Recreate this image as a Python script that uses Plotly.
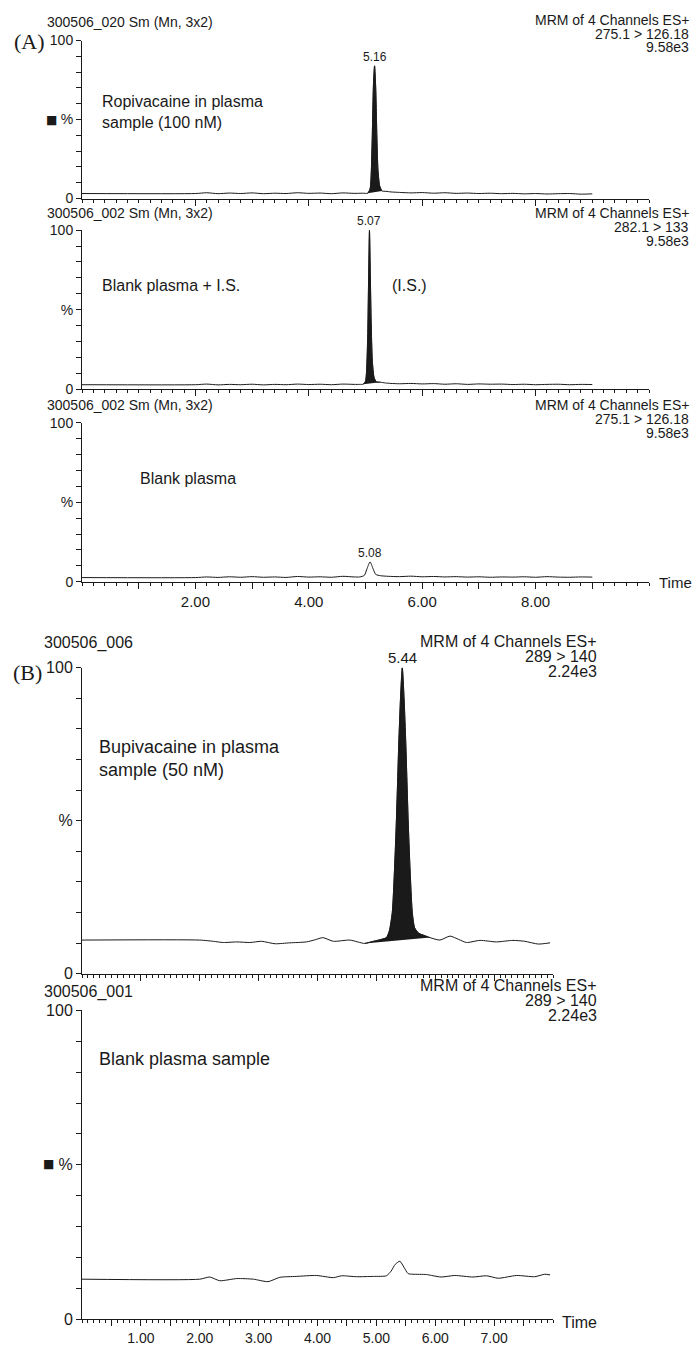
import plotly.graph_objects as go

W, H = 694, 1357

# ---------------- data (time in min, intensity in %) ----------------
# Panel A, trace 1: Ropivacaine in plasma sample, MRM 275.1 > 126.18
A1_t = [0.00, 2.00, 2.20, 2.40, 2.60, 2.80, 3.00, 3.20, 3.40, 3.60, 3.80, 4.00, 4.20, 4.40, 4.60, 4.80,
        4.95, 5.04, 5.08, 5.10, 5.12, 5.14, 5.16, 5.18, 5.20, 5.22, 5.25, 5.29, 5.36, 5.45,
        5.60, 5.80, 6.00, 6.20, 6.40, 6.60, 6.80, 7.00, 7.20, 7.40, 7.60, 7.80, 8.00, 8.20, 8.40, 8.60, 8.80, 9.00]
A1_y = [3.2, 3.2, 3.7, 3.1, 3.5, 3.2, 3.6, 3.1, 3.4, 3.2, 3.7, 3.3, 3.5, 3.1, 3.6, 3.3,
        3.4, 3.4, 6.0, 15.0, 40.0, 72.0, 84.0, 70.0, 40.0, 18.0, 8.0, 4.8, 4.6, 4.2,
        3.9, 3.6, 3.8, 3.4, 3.7, 3.3, 3.5, 3.2, 3.4, 3.1, 3.3, 3.0, 3.2, 2.9, 3.1, 3.2, 2.8, 3.0]
A1_peak = 5.16
A1_fill = (5.04, 5.29)

# Panel A, trace 2: Blank plasma + I.S., MRM 282.1 > 133
A2_t = [0.00, 2.00, 2.20, 2.40, 2.60, 2.80, 3.00, 3.20, 3.40, 3.60, 3.80, 4.00, 4.20, 4.40, 4.60, 4.80,
        4.90, 4.96, 5.00, 5.02, 5.04, 5.055, 5.07, 5.085, 5.10, 5.12, 5.15, 5.19, 5.26, 5.35, 5.45,
        5.60, 5.80, 6.00, 6.20, 6.40, 6.60, 6.80, 7.00, 7.20, 7.40, 7.60, 7.80, 8.00, 8.20, 8.40, 8.60, 8.80, 9.00]
A2_y = [2.8, 2.8, 3.2, 2.7, 3.0, 2.8, 3.1, 2.7, 3.0, 2.8, 3.2, 2.9, 3.1, 2.8, 3.2, 3.0,
        3.0, 3.1, 5.0, 12.0, 35.0, 70.0, 100.0, 72.0, 42.0, 18.0, 7.5, 4.6, 4.4, 3.9, 3.6,
        3.4, 3.6, 3.3, 3.5, 3.1, 3.4, 3.0, 3.3, 3.1, 3.2, 2.9, 3.1, 2.8, 3.0, 3.1, 2.8, 3.0, 2.9]
A2_peak = 5.07
A2_fill = (4.96, 5.26)

# Panel A, trace 3: Blank plasma, MRM 275.1 > 126.18
A3_t = [0.00, 2.00, 2.20, 2.40, 2.60, 2.80, 3.00, 3.20, 3.40, 3.60, 3.80, 4.00, 4.20, 4.40, 4.60, 4.80,
        4.90, 4.98, 5.03, 5.08, 5.13, 5.18, 5.26, 5.40,
        5.60, 5.80, 6.00, 6.20, 6.40, 6.60, 6.80, 7.00, 7.20, 7.40, 7.60, 7.80, 8.00, 8.20, 8.40, 8.60, 8.80, 9.00]
A3_y = [2.6, 2.6, 3.0, 2.7, 3.1, 2.8, 3.2, 2.8, 3.0, 2.7, 3.3, 2.9, 3.1, 2.8, 3.4, 3.0,
        3.0, 4.0, 8.5, 12.5, 8.5, 4.6, 3.8, 3.4,
        3.2, 3.5, 3.1, 3.3, 3.0, 3.2, 2.9, 3.1, 2.8, 3.0, 2.9, 3.1, 2.8, 3.2, 2.9, 2.8, 3.0, 2.9]
A3_peak = 5.08

# Panel B, trace 1: Bupivacaine in plasma sample, MRM 289 > 140
B1_t = [0.00, 2.00, 2.23, 2.40, 2.63, 2.85, 3.05, 3.28, 3.53, 3.81, 3.96, 4.09, 4.27, 4.55, 4.80,
        4.95, 5.08, 5.17, 5.22, 5.27, 5.31, 5.34, 5.38, 5.41, 5.44, 5.47, 5.50, 5.54, 5.57, 5.61,
        5.65, 5.72, 5.80, 5.91, 6.08, 6.25, 6.40, 6.53, 6.76, 7.04, 7.32, 7.52, 7.75, 7.95]
B1_y = [11.0, 11.0, 10.6, 10.2, 10.4, 10.2, 10.6, 9.8, 10.1, 10.4, 11.1, 11.8, 10.6, 11.0, 9.9,
        10.6, 11.2, 11.8, 14.0, 20.0, 35.0, 50.0, 75.0, 90.0, 100.0, 90.0, 75.0, 50.0, 35.0, 20.0,
        15.0, 13.2, 12.6, 11.8, 11.0, 12.3, 11.2, 10.2, 10.9, 10.4, 10.9, 10.6, 9.7, 10.1]
B1_peak = 5.44
B1_fill = (4.80, 5.91)

# Panel B, trace 2: Blank plasma sample, MRM 289 > 140
B2_t = [0.00, 2.00, 2.17, 2.34, 2.63, 2.91, 3.16, 3.36, 3.64, 3.98, 4.27, 4.41, 4.66, 4.95,
        5.17, 5.25, 5.32, 5.40, 5.47, 5.54, 5.62, 5.85, 6.10, 6.33, 6.64, 6.87, 7.07, 7.38,
        7.69, 7.86, 7.95]
B2_y = [13.0, 13.0, 13.7, 12.5, 13.2, 13.0, 12.2, 13.6, 13.9, 14.2, 13.5, 14.1, 13.8, 13.9,
        14.1, 15.6, 17.8, 18.8, 16.8, 14.8, 14.6, 14.5, 13.7, 14.2, 13.7, 14.1, 13.3, 14.2,
        13.8, 14.6, 14.4]

# tick labels
Y_TICKS = [0, 10, 20, 30, 40, 50, 60, 70, 80, 90, 100]
Y_TEXT = ["0", "", "", "", "", "%", "", "", "", "", "100"]
A_X_TICKS = [1, 2, 3, 4, 5, 6, 7, 8, 9]
A_X_TEXT = ["", "2.00", "", "4.00", "", "6.00", "", "8.00", ""]
B_X_TICKS = [0.5, 1, 1.5, 2, 2.5, 3, 3.5, 4, 4.5, 5, 5.5, 6, 6.5, 7, 7.5]
B_X_TEXT = ["", "1.00", "", "2.00", "", "3.00", "", "4.00", "", "5.00", "", "6.00", "", "7.00", ""]

# header texts
HEAD = [
    ("300506_020 Sm (Mn, 3x2)", ["MRM of 4 Channels ES+", "275.1 > 126.18", "9.58e3"]),
    ("300506_002 Sm (Mn, 3x2)", ["MRM of 4 Channels ES+", "282.1 > 133", "9.58e3"]),
    ("300506_002 Sm (Mn, 3x2)", ["MRM of 4 Channels ES+", "275.1 > 126.18", "9.58e3"]),
    ("300506_006", ["MRM of 4 Channels ES+", "289 > 140", "2.24e3"]),
    ("300506_001", ["MRM of 4 Channels ES+", "289 > 140", "2.24e3"]),
]

# ---------------- layout geometry (pixels) ----------------
FONT = "Liberation Sans, Arial, sans-serif"
INK = "#1a1a1a"


def px(x):
    return x / W


def py(y):
    return 1 - y / H


PANELS = [(33, 193), (225, 386), (420, 581), (668, 978), (1015, 1328)]
A_XDOM = [px(82), px(649)]
B_XDOM = [px(82), px(553)]

fig = go.Figure()
layout = dict(width=W, height=H, margin=dict(l=0, r=0, t=0, b=0), autosize=False,
              paper_bgcolor="white", plot_bgcolor="white", showlegend=False,
              font=dict(family=FONT, color=INK))

series = [(A1_t, A1_y, A1_peak, A1_fill), (A2_t, A2_y, A2_peak, A2_fill),
          (A3_t, A3_y, A3_peak, None), (B1_t, B1_y, B1_peak, B1_fill),
          (B2_t, B2_y, None, None)]

annotations = []
for i, ((top, bot), (tt, yy, pk, fl)) in enumerate(zip(PANELS, series)):
    n = i + 1
    xa = "xaxis" if n == 1 else f"xaxis{n}"
    ya = "yaxis" if n == 1 else f"yaxis{n}"
    xr = "x" if n == 1 else f"x{n}"
    yr = "y" if n == 1 else f"y{n}"
    isA = i < 3
    show_x_labels = (i == 2) or (i == 4)
    yfs = 14 if isA else 16
    xfs = 15 if isA else 14
    layout[xa] = dict(
        domain=A_XDOM if isA else B_XDOM,
        range=[0, 10.0] if isA else [0, 8.0],
        anchor=yr, showline=True, linecolor=INK, linewidth=1,
        showgrid=False, zeroline=False,
        ticks="outside", ticklen=6, tickwidth=1, tickcolor=INK,
        tickmode="array",
        tickvals=A_X_TICKS if isA else B_X_TICKS,
        ticktext=A_X_TEXT if isA else B_X_TEXT,
        showticklabels=show_x_labels,
        tickfont=dict(family=FONT, size=xfs, color=INK),
        minor=dict(ticks="outside", ticklen=3, tickwidth=1, tickcolor=INK,
                   tick0=0, dtick=0.2 if isA else 0.1, showgrid=False),
    )
    layout[ya] = dict(
        domain=[py(bot), py(top)], range=[0, 100], anchor=xr,
        showline=True, linecolor=INK, linewidth=1, showgrid=False, zeroline=False,
        ticks="outside", ticklen=5, tickwidth=1, tickcolor=INK,
        tickmode="array", tickvals=Y_TICKS, ticktext=Y_TEXT,
        tickfont=dict(family=FONT, size=yfs, color=INK),
    )
    if fl is not None:
        ft = [t for t in tt if fl[0] <= t <= fl[1]]
        fy = [y for t, y in zip(tt, yy) if fl[0] <= t <= fl[1]]
        fig.add_trace(go.Scatter(x=ft, y=fy, xaxis=xr, yaxis=yr, mode="lines",
                                 line=dict(color=INK, width=0.8, shape="spline", smoothing=0.6),
                                 fill="toself", fillcolor=INK, hoverinfo="skip"))
    fig.add_trace(go.Scatter(x=tt, y=yy, xaxis=xr, yaxis=yr, mode="lines",
                             line=dict(color=INK, width=1, shape="spline", smoothing=0.6)))
    if pk is not None:
        pky = max(y for t, y in zip(tt, yy) if abs(t - pk) < 0.15)
        annotations.append(dict(x=pk, y=pky, xref=xr, yref=yr, text=f"{pk:.2f}",
                                showarrow=False, xanchor="center", yanchor="bottom", yshift=0,
                                font=dict(family=FONT, size=12 if isA else 15, color=INK)))

HEAD_POS = [
    ((45, 14), 691, [12, 26, 40]),
    ((45, 208), 691, [208, 222, 236]),
    ((45, 402), 691, [402, 416, 430]),
    ((42, 643), 599, [642, 657, 672]),
    ((42, 996), 599, [990, 1005, 1020]),
]
for i, ((ltxt, rlines), ((lx, ly), rx, rys)) in enumerate(zip(HEAD, HEAD_POS)):
    fs = 14 if i < 3 else 16
    annotations.append(dict(x=px(lx), y=py(ly), xref="paper", yref="paper", text=ltxt,
                            showarrow=False, xanchor="left", yanchor="middle",
                            font=dict(family=FONT, size=fs, color=INK)))
    for txt, ry in zip(rlines, rys):
        annotations.append(dict(x=px(rx), y=py(ry), xref="paper", yref="paper", text=txt,
                                showarrow=False, xanchor="right", yanchor="middle",
                                font=dict(family=FONT, size=fs, color=INK)))

for txt, (lx, ly) in [("(A)", (12, 34)), ("(B)", (11, 673))]:
    annotations.append(dict(x=px(lx), y=py(ly), xref="paper", yref="paper", text=txt,
                            showarrow=False, xanchor="left", yanchor="middle",
                            font=dict(family="Liberation Serif, Times New Roman, serif", size=22, color=INK)))

# small black square markers beside the "%" labels
for lx, ly in [(51, 113), (48, 1171)]:
    annotations.append(dict(x=px(lx), y=py(ly), xref="paper", yref="paper", text="\u25a0",
                            showarrow=False, xanchor="center", yanchor="middle",
                            font=dict(family="DejaVu Sans", size=12, color=INK)))

INNER = [
    ("Ropivacaine in plasma<br>sample (100 nM)", 100, 105, 16),
    ("Blank plasma + I.S.", 100, 281, 16),
    ("(I.S.)", 390, 281, 16),
    ("Blank plasma", 138, 476, 16),
    ("Bupivacaine in plasma<br>sample (50 nM)", 97, 760, 18),
    ("Blank plasma sample", 97, 1064, 18),
]
for txt, lx, ly, fs in INNER:
    annotations.append(dict(x=px(lx), y=py(ly), xref="paper", yref="paper", text=txt,
                            showarrow=False, xanchor="left", yanchor="middle", align="left",
                            font=dict(family=FONT, size=fs, color=INK)))

for lx, ly, fs in [(657, 582, 15), (560, 1331, 16)]:
    annotations.append(dict(x=px(lx), y=py(ly), xref="paper", yref="paper", text="Time",
                            showarrow=False, xanchor="left", yanchor="middle",
                            font=dict(family=FONT, size=fs, color=INK)))

layout["annotations"] = annotations
fig.update_layout(**layout)
fig.write_html(
    "out.html",
    config={"displayModeBar": False, "staticPlot": True},
    post_script="document.body.style.margin='0';document.body.style.padding='0';"
                "document.documentElement.style.overflow='hidden';",
)
